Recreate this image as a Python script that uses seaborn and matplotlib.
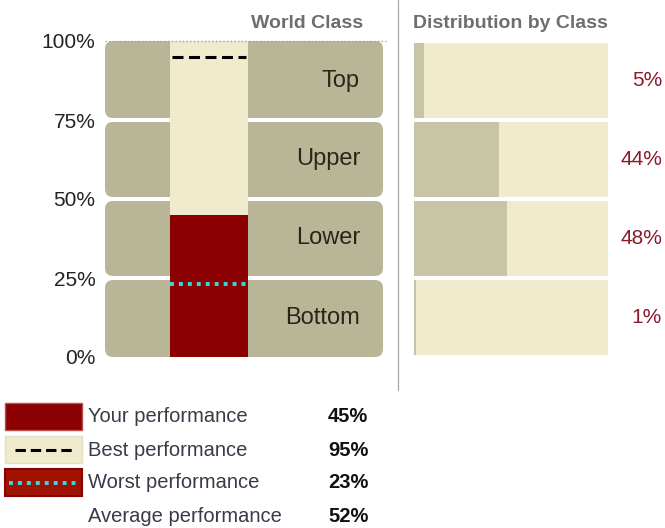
import numpy as np
import pandas as pd
import matplotlib
matplotlib.use('Agg')
import matplotlib.pyplot as plt
from matplotlib.patches import FancyBboxPatch, Rectangle
import seaborn as sns

# === DATA ===
CLASSES = ['Top', 'Upper', 'Lower', 'Bottom']
CLASS_EDGES = [100, 75, 50, 25, 0]
DIST_PCT = [5, 44, 48, 1]
PERF_NAMES = ['Your performance', 'Best performance', 'Worst performance', 'Average performance']
PERF_VALUES = [45, 95, 23, 52]
Y_TICKS = [0, 25, 50, 75, 100]

# === COLOURS ===
TAUPE = '#b9b697'
TAUPE_LIGHT = '#c8c4a6'
CREAM = '#efebcc'
DARK_RED = '#8b0000'
CYAN = '#30dbe4'
LABEL_DARK = '#26261a'
VALUE_RED = '#8b1a2a'
TITLE_GREY = '#6e6e6e'

W, H = 665, 528
sns.set_theme(style='white')
plt.rcParams['font.family'] = ['Liberation Sans', 'DejaVu Sans']

fig = plt.figure(figsize=(W / 100, H / 100), dpi=100)
fig.patch.set_facecolor('white')


def px_axes(x0, y0, x1, y1, **kw):
    # axes placed by pixel box (top-left origin)
    ax = fig.add_axes([x0 / W, 1 - y1 / H, (x1 - x0) / W, (y1 - y0) / H], **kw)
    ax.set_facecolor('none')
    return ax


ax_bg = px_axes(0, 0, W, H, zorder=-1)
ax_bg.set_xlim(0, W); ax_bg.set_ylim(H, 0); ax_bg.axis('off')
ax_l = px_axes(105, 41, 383, 357)
ax_r = px_axes(414, 41, 608, 357)

# === LEFT PANEL: world class bands + your performance ===
XL = (-1.067, 1.785)
px_x = 278 / (XL[1] - XL[0])
px_y = 316 / 100
r_px = 8
gap = 4 / px_y

for name, hi, lo in zip(CLASSES, CLASS_EDGES[:-1], CLASS_EDGES[1:]):
    y0 = lo + (gap / 2 if lo > 0 else 0)
    y1 = hi - (gap / 2 if hi < 100 else 0)
    band = FancyBboxPatch((XL[0], y0), XL[1] - XL[0], y1 - y0,
                          boxstyle=f'round,pad=0,rounding_size={r_px / px_x}',
                          mutation_aspect=px_x / px_y, fc=TAUPE, ec='none', zorder=1)
    ax_l.add_patch(band)
    ax_l.text(XL[0] + 255 / px_x, (lo + hi) / 2, name, ha='right', va='center',
              fontsize=17, color=LABEL_DARK, zorder=6)

perf = pd.DataFrame({'who': ['you'], 'full': [100], 'score': [PERF_VALUES[0]]})
sns.barplot(data=perf, x='who', y='full', color=CREAM, saturation=1, width=0.8,
            errorbar=None, linewidth=0, edgecolor='none', ax=ax_l, zorder=3)
sns.barplot(data=perf, x='who', y='score', color=DARK_RED, saturation=1, width=0.8,
            errorbar=None, linewidth=0, edgecolor='none', ax=ax_l, zorder=4)

# best / worst markers
ax_l.plot([-0.38, 0.38], [PERF_VALUES[1]] * 2, color='black', lw=2.2,
          dashes=(3.6, 1.8), zorder=5)
ax_l.plot([-0.4, 0.4], [PERF_VALUES[2]] * 2, color=CYAN, lw=2.8,
          dashes=(1, 1.3), zorder=5)
# dotted top line
ax_l.plot([XL[0], XL[1] + 4 / px_x], [100, 100], ls=':', color='#a0a0a0', lw=1,
          clip_on=False, zorder=7)

ax_l.set_xlim(XL); ax_l.set_ylim(0, 100)
ax_l.set_yticks(Y_TICKS, labels=[f'{t}%' for t in Y_TICKS])
ax_l.set_xticks([])
ax_l.tick_params(axis='y', length=0, pad=7, labelsize=15, labelcolor='#222222')
ax_l.set_xlabel(''); ax_l.set_ylabel('')
sns.despine(ax=ax_l, left=True, bottom=True)

# === RIGHT PANEL: distribution by class ===
dist = pd.DataFrame({'cls': CLASSES, 'pct': DIST_PCT, 'full': [100] * len(CLASSES)})
sns.barplot(data=dist, y='cls', x='full', orient='h', color=CREAM, saturation=1,
            width=0.962, errorbar=None, linewidth=0, edgecolor='none', ax=ax_r)
sns.barplot(data=dist, y='cls', x='pct', orient='h', color=TAUPE_LIGHT, saturation=1,
            width=0.962, errorbar=None, linewidth=0, edgecolor='none', ax=ax_r)
ax_r.set_xlim(0, 100); ax_r.set_ylim(3.5, -0.5)
for i, v in enumerate(DIST_PCT):
    ax_r.text(100 + 54 * 100 / 194, i, f'{v}%', ha='right', va='center',
              fontsize=15, color=VALUE_RED, clip_on=False)
ax_r.set_xticks([]); ax_r.set_yticks([])
ax_r.set_xlabel(''); ax_r.set_ylabel('')
sns.despine(ax=ax_r, left=True, bottom=True)

# === TITLES & SEPARATOR ===
ax_bg.text(363, 24, 'World Class', ha='right', va='center', fontsize=14,
           fontweight='bold', color=TITLE_GREY)
ax_bg.text(413, 24, 'Distribution by Class', ha='left', va='center', fontsize=14,
           fontweight='bold', color=TITLE_GREY)
ax_bg.plot([397.5, 397.5], [0, 390], color='#a8a8a8', lw=0.9)

# === LEGEND ===
row_y = [417, 450, 483, 516]
ax_bg.add_patch(Rectangle((5, row_y[0] - 14), 77, 27, fc=DARK_RED, ec='#b85050', lw=1))
ax_bg.add_patch(Rectangle((5, row_y[1] - 14), 77, 27, fc=CREAM, ec='#e2dec2', lw=1))
ax_bg.plot([15, 73], [row_y[1]] * 2, color='black', lw=2.2, dashes=(3.4, 1.6))
ax_bg.add_patch(Rectangle((5, row_y[2] - 14), 77, 27, fc='#a01200', ec=DARK_RED, lw=1.5))
ax_bg.plot([9, 78], [row_y[2]] * 2, color=CYAN, lw=2.8, dashes=(1, 1.3))
for yc, name, val in zip(row_y, PERF_NAMES, PERF_VALUES):
    ax_bg.text(88, yc, name, ha='left', va='center', fontsize=14.5, color='#3a3a48')
    ax_bg.text(328, yc, f'{val}%', ha='left', va='center', fontsize=14.5,
               fontweight='bold', color='#111111')

fig.savefig('out.png', dpi=100, facecolor='white')
